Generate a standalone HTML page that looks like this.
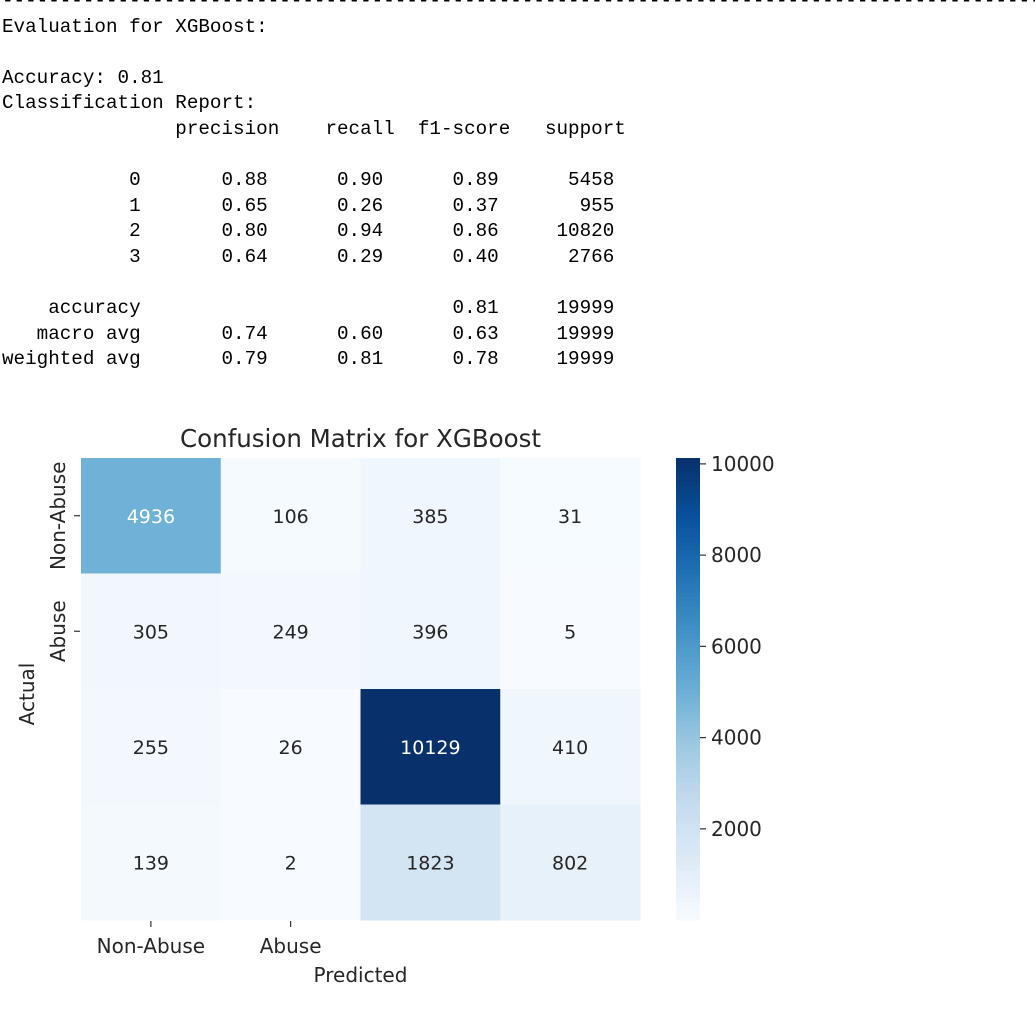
<!DOCTYPE html>
<html><head><meta charset="utf-8">
<style>
body{margin:0;width:1035px;height:1026px;background:#fff;overflow:hidden;position:relative}
pre{position:absolute;left:2px;top:-11px;margin:0;font-family:"Liberation Mono",monospace;font-size:19.25px;line-height:25.6px;color:#000}
svg{position:absolute;left:0;top:0}
svg text{font-family:"DejaVu Sans",sans-serif}
</style></head><body>
<pre>------------------------------------------------------------------------------------------
Evaluation for XGBoost:

Accuracy: 0.81
Classification Report:
               precision    recall  f1-score   support

           0       0.88      0.90      0.89      5458
           1       0.65      0.26      0.37       955
           2       0.80      0.94      0.86     10820
           3       0.64      0.29      0.40      2766

    accuracy                           0.81     19999
   macro avg       0.74      0.60      0.63     19999
weighted avg       0.79      0.81      0.78     19999
</pre>
<svg id="chart" width="1035" height="1026"></svg>
<script>
const rowLabels=["Non-Abuse","Abuse"];
const colLabels=["Non-Abuse","Abuse"];
const matrix=[[4936,106,385,31],[305,249,396,5],[255,26,10129,410],[139,2,1823,802]];
const cbTicks=[2000,4000,6000,8000,10000];
const NS="http://www.w3.org/2000/svg";
const svg=document.getElementById("chart");
const X0=81,Y0=458,W=559,H=462,CBX=676,CBW=24;
const nR=matrix.length,nC=matrix[0].length;
const all=matrix.flat();const vmin=Math.min(...all),vmax=Math.max(...all);
const stops=[[247,251,255],[222,235,247],[198,219,239],[158,202,225],[107,174,214],[66,146,198],[33,113,181],[8,81,156],[8,48,107]];
function color(v){let t=(v-vmin)/(vmax-vmin);t=Math.max(0,Math.min(1,t))*(stops.length-1);const i=Math.min(Math.floor(t),stops.length-2),f=t-i;const c=stops[i].map((a,k)=>Math.round(a+(stops[i+1][k]-a)*f));return `rgb(${c})`;}
function lum(v){return (v-vmin)/(vmax-vmin);}
function el(tag,attrs,txt){const e=document.createElementNS(NS,tag);for(const k in attrs)e.setAttribute(k,attrs[k]);if(txt!==undefined)e.textContent=txt;svg.appendChild(e);return e;}
const cw=W/nC,ch=H/nR;
const xc=j=>X0+cw*(j+0.5), yc=i=>Y0+ch*(i+0.5);
for(let i=0;i<nR;i++)for(let j=0;j<nC;j++){
 const r=el("rect",{x:X0+cw*j,y:Y0+ch*i,width:cw+0.5,height:ch+0.5,fill:color(matrix[i][j])});
 
 
 const t=el("text",{x:xc(j),y:yc(i)+7,"text-anchor":"middle","font-size":"19",fill:lum(matrix[i][j])>0.4?"#fff":"#262626"},String(matrix[i][j]));
 
 
}
const title=el("text",{x:X0+W/2,y:447,"text-anchor":"middle","font-size":"24.5",fill:"#262626"},"Confusion Matrix for XGBoost");

rowLabels.forEach((l,i)=>{
 el("line",{x1:X0-7,x2:X0-1,y1:yc(i),y2:yc(i),stroke:"#333","stroke-width":1.2});
 const t=el("text",{x:0,y:0,"text-anchor":"middle","font-size":"20",fill:"#262626",transform:`translate(${X0-16},${yc(i)}) rotate(-90)`},l);
 
});
colLabels.forEach((l,j)=>{
 el("line",{x1:xc(j),x2:xc(j),y1:Y0+H+1,y2:Y0+H+7,stroke:"#333","stroke-width":1.2});
 const t=el("text",{x:xc(j),y:Y0+H+33,"text-anchor":"middle","font-size":"20",fill:"#262626"},l);
 
});
const xt=el("text",{x:X0+W/2,y:982,"text-anchor":"middle","font-size":"20",fill:"#262626"},"Predicted");

const yt=el("text",{x:0,y:0,"text-anchor":"middle","font-size":"20",fill:"#262626",transform:`translate(34,${Y0+H/2+5}) rotate(-90)`},"Actual");

const N=100;
for(let k=0;k<N;k++){const v0=vmin+(vmax-vmin)*k/N;const y=Y0+H-(H*(k+1)/N);
 const r=el("rect",{x:CBX,y:y,width:CBW,height:H/N+0.6,fill:color(v0+(vmax-vmin)/(2*N))});
 }
const cy=v=>Y0+H-(v-vmin)/(vmax-vmin)*H;
cbTicks.forEach(v=>{el("line",{x1:CBX+CBW,x2:CBX+CBW+6,y1:cy(v),y2:cy(v),stroke:"#333","stroke-width":1.2});
 const t=el("text",{x:CBX+CBW+11,y:cy(v)+7,"font-size":"20",fill:"#262626"},String(v));
 });
</script>
</body></html>
